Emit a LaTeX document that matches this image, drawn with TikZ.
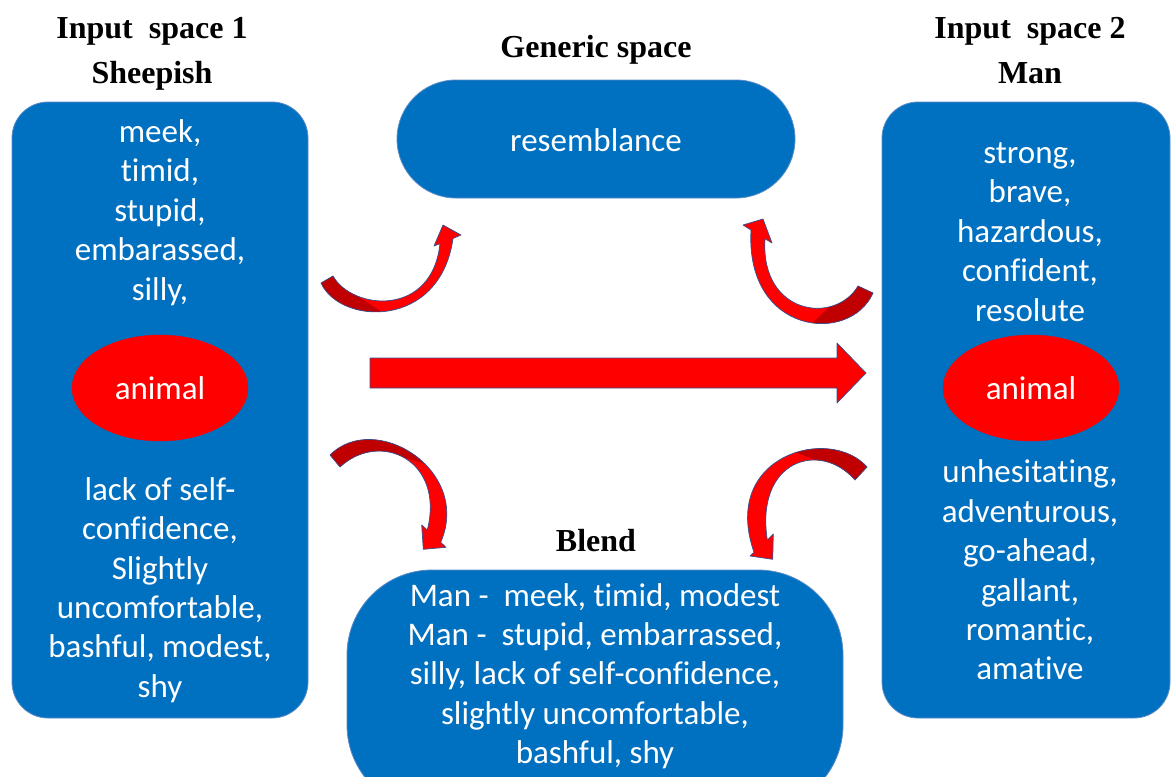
\documentclass[tikz,border=0pt]{standalone}
\usepackage{fontspec}
\setmainfont[Ligatures=NoCommon,RawFeature={-liga;-clig;-calt}]{Carlito}
\newfontfamily\headfont{Liberation Serif}
\usetikzlibrary{shapes.geometric}
\definecolor{boxblue}{HTML}{0070C0}
\definecolor{boxline}{HTML}{5B8CC8}
\definecolor{arrred}{HTML}{FF0000}
\definecolor{arrdark}{HTML}{C00000}
\definecolor{arrline}{HTML}{34508F}
\newcommand\TLpath{(321,283) .. controls (340,325) and (440,330) .. (453,238.5) -- (461,235) -- (443,225) -- (434,246) -- (440,243.6) .. controls (432,318) and (352,310) .. (333,276) -- cycle}
\newcommand\TRpath{(873,293) .. controls (850,345) and (745,335) .. (751,230) -- (743,225) -- (763,219) -- (772,243) -- (765,238.7) .. controls (760,315) and (835,325) .. (858,286) -- cycle}
\newcommand\BLpath{(330,455) .. controls (375,410) and (472,470) .. (440.7,542.3) -- (446,547.3) -- (423.3,549.3) -- (421.7,525) -- (427.3,530) .. controls (445,460) and (380,430) .. (340,467) -- cycle}
\newcommand\BRpath{(867,467) .. controls (830,425) and (720,455) .. (754,552.3) -- (750,556) -- (772.7,559.3) -- (773.3,534) -- (767.3,540) .. controls (755,460) and (820,440) .. (855,480) -- cycle}
\begin{document}
\begin{tikzpicture}[x=1pt,y=-1pt,
  panel/.style={draw=boxline, line width=0.8pt, fill=boxblue, inner sep=0pt},
  body/.style={text=white, align=center, font=\fontsize{33}{39.4}\selectfont, inner sep=0pt},
  head/.style={font=\headfont\bfseries\fontsize{32}{36}\selectfont, inner sep=0pt, anchor=base},
  oval/.style={ellipse, fill=arrred, draw=arrred, minimum width=176pt, minimum height=106pt, text=white, font=\fontsize{33}{39}\selectfont, inner sep=0pt},
  redfill/.style={fill=arrred},
  darkfill/.style={fill=arrdark},
  redline/.style={draw=arrline, line width=0.7pt, line join=round},
]
\useasboundingbox (0,0) rectangle (1172,776);
\clip (0,0) rectangle (1172,776);
\fill[white] (0,0) rectangle (1172,776);

% panels
\node[panel, rounded corners=36pt, minimum width=296pt, minimum height=616pt] (in1) at (160,410) {};
\node[panel, rounded corners=36pt, minimum width=288pt, minimum height=616pt] (in2) at (1026,410) {};
\node[panel, rounded corners=59pt, minimum width=398pt, minimum height=118pt] (gen) at (596,139) {};
\node[panel, rounded corners=85pt, minimum width=496pt, minimum height=240pt] (bl) at (595,690) {};

% headings
\node[head] (h1a) at (152,38) {Input\ \ space 1};
\node[head] (h1b) at (152,84) {Sheepish};
\node[head] (hg) at (596,58) {Generic space};
\node[head] (h2a) at (1030,38) {Input\ \ space 2};
\node[head] (h2b) at (1030,84) {Man};
\node[head] (hb) at (596,551) {Blend};

% ellipses
\node[oval] (an1) at (160,388) {animal};
\node[oval] (an2) at (1031,388) {animal};

% texts
\node[body] (t1a) at (160,212.5) {meek,\\timid,\\stupid,\\embarassed,\\silly,};
\node[body] (t1b) at (160,590) {lack of self-\\confidence,\\Slightly\\uncomfortable,\\bashful, modest,\\shy};
\node[body] (t2a) at (1030,232) {strong,\\brave,\\hazardous,\\confident,\\resolute};
\node[body] (t2b) at (1030,570) {unhesitating,\\adventurous,\\go-ahead,\\gallant,\\romantic,\\amative};
\node[body] (tg) at (596,140) {resemblance};
\node[body] (tb) at (595,676) {Man -\ \ meek, timid, modest\\Man -\ \ stupid, embarrassed,\\silly, lack of self-confidence,\\slightly uncomfortable,\\bashful, shy};

% big arrow
\path[redfill, redline] (370,358) -- (837,358) -- (837,343) -- (866,373) -- (837,403) -- (837,388) -- (370,388) -- cycle;

% curved arrows
\path[redfill] \TLpath;
\begin{scope}
\clip (300,255) -- (342,255) -- (360,298) -- (398,322) -- (300,322) -- cycle;
\path[darkfill] \TLpath;
\end{scope}
\path[redline] \TLpath;

\path[redfill] \TRpath;
\begin{scope}
\clip (880,255) -- (845,255) -- (830,306) -- (800,335) -- (880,335) -- cycle;
\path[darkfill] \TRpath;
\end{scope}
\path[redline] \TRpath;

\path[redfill] \BLpath;
\begin{scope}
\clip (300,420) -- (450,420) -- (450,472) -- (387,452) -- (360,495) -- (300,495) -- cycle;
\path[darkfill] \BLpath;
\end{scope}
\path[redline] \BLpath;

\path[redfill] \BRpath;
\begin{scope}
\clip (797,425) -- (880,425) -- (880,500) -- (835,500) -- (831,466) -- (795,452) -- cycle;
\path[darkfill] \BRpath;
\end{scope}
\path[redline] \BRpath;
\end{tikzpicture}
\end{document}
